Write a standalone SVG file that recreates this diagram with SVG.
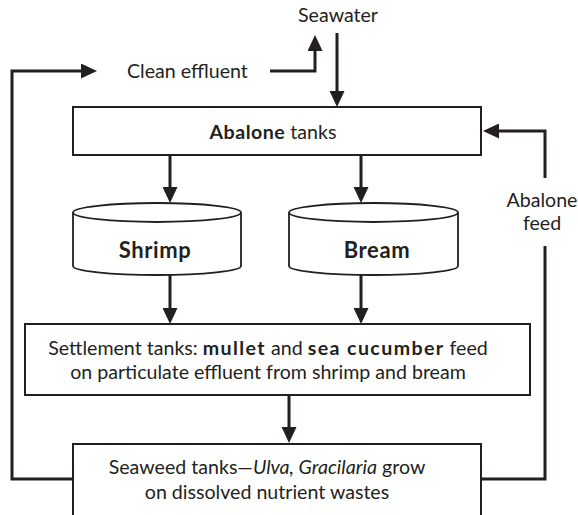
<svg xmlns="http://www.w3.org/2000/svg" width="578" height="515" viewBox="0 0 578 515">
<style>
text{font-family:Lato,"Liberation Sans",sans-serif;font-size:19.6px;fill:#231f20}
.b{font-weight:bold;letter-spacing:0.5px}
.b2{font-weight:bold;letter-spacing:1.4px}
.i{font-style:italic}
.big{font-size:22px;font-weight:bold;letter-spacing:0.6px}
.box{fill:#fff;stroke:#231f20;stroke-width:2}
.cyl{fill:#fff;stroke:#231f20;stroke-width:1.8}
.c{fill:none;stroke:#231f20;stroke-width:3;marker-end:url(#ah)}
.cn{fill:none;stroke:#231f20;stroke-width:3}
</style>
<defs>
<marker id="ah" viewBox="0 0 16 15" refX="2" refY="7.5" markerWidth="16" markerHeight="15" markerUnits="userSpaceOnUse" orient="auto">
<path d="M0,0 L16,7.5 L0,15 z" fill="#231f20"/>
</marker>
</defs>
<g id="connectors">
<path class="c" d="M337,33 V93"/>
<path class="c" d="M270,71 H315 V49"/>
<path class="c" d="M73,479 H12 V71 H83"/>
<path class="cn" d="M481,479 H545 V246"/>
<path class="c" d="M545,178 V131 H497"/>
<path class="c" d="M170,155 V189"/>
<path class="c" d="M361,155 V189"/>
<path class="c" d="M170,275 V310"/>
<path class="c" d="M361,275 V310"/>
<path class="c" d="M289,395 V429"/>
</g>
<g id="seawater"><text x="338" y="22" text-anchor="middle">Seawater</text></g>
<g id="clean-effluent"><text x="127" y="78">Clean effluent</text></g>
<g id="abalone-feed"><text x="542" y="207" text-anchor="middle">Abalone</text><text x="542" y="230" text-anchor="middle">feed</text></g>
<g id="abalone-tanks">
<rect class="box" x="73" y="107" width="408" height="48"/>
<text x="273" y="139" text-anchor="middle"><tspan class="b">Abalone</tspan> tanks</text>
</g>
<g id="shrimp">
<path class="cyl" d="M73,212.5 V266 A84,9 0 0 0 241,266 V212.5"/>
<ellipse class="cyl" cx="157" cy="212.5" rx="84" ry="9.5"/>
<text class="big" x="155" y="258" text-anchor="middle">Shrimp</text>
</g>
<g id="bream">
<path class="cyl" d="M289,212.5 V266 A84.5,9 0 0 0 458,266 V212.5"/>
<ellipse class="cyl" cx="373.5" cy="212.5" rx="84.5" ry="9.5"/>
<text class="big" x="377" y="258" text-anchor="middle">Bream</text>
</g>
<g id="settlement">
<rect class="box" x="25" y="324" width="505" height="71"/>
<text x="268" y="355" text-anchor="middle">Settlement tanks: <tspan class="b2">mullet</tspan> and <tspan class="b2">sea cucumber</tspan> feed</text>
<text x="268" y="379" text-anchor="middle">on particulate effluent from shrimp and bream</text>
</g>
<g id="seaweed">
<rect class="box" x="73" y="444" width="408" height="90"/>
<text x="267" y="474" text-anchor="middle">Seaweed tanks—<tspan class="i">Ulva, Gracilaria</tspan> grow</text>
<text x="267" y="499" text-anchor="middle">on dissolved nutrient wastes</text>
</g>
</svg>
